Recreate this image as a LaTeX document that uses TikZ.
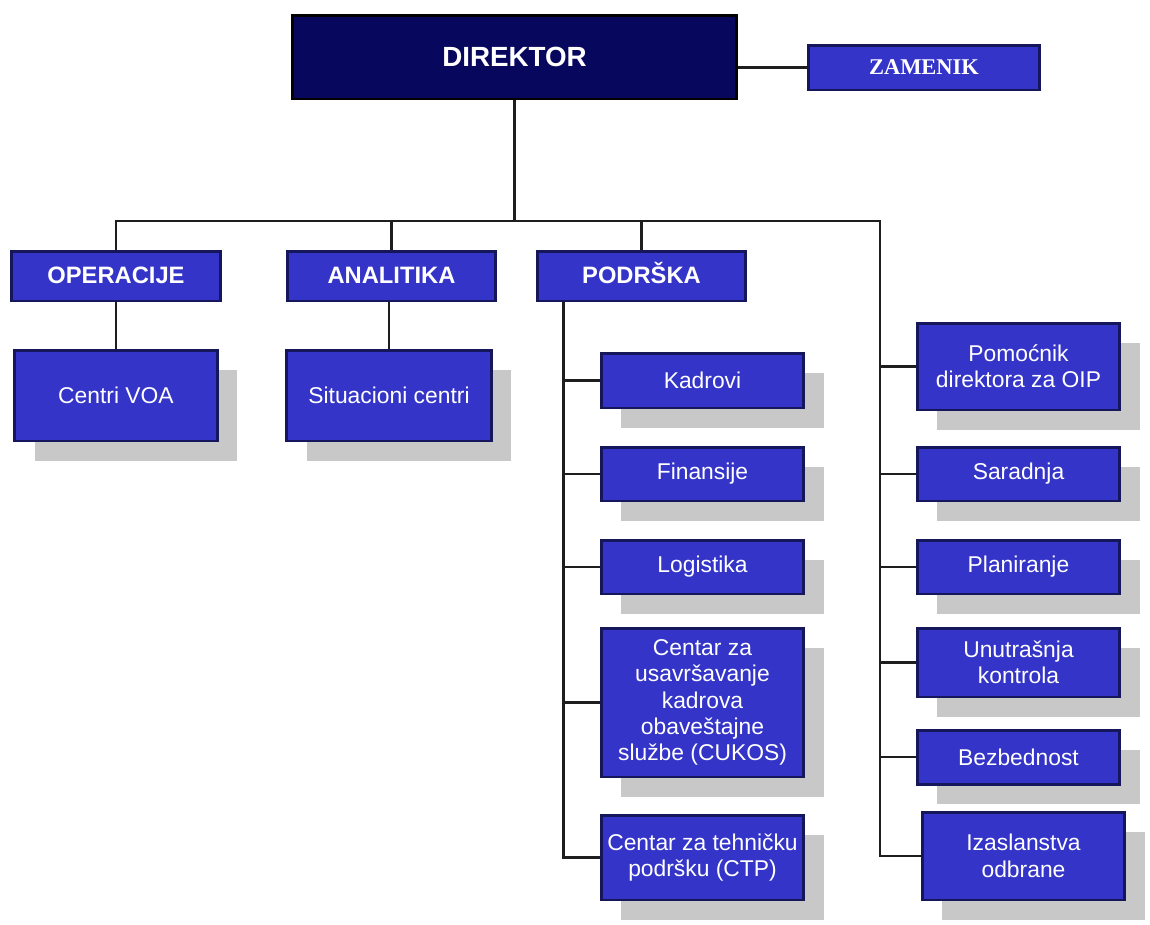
\documentclass[tikz,border=0pt]{standalone}
\usepackage{fontspec}
\setmainfont{Liberation Sans}
\newfontfamily\zamfont{Liberation Serif}
\usepackage{tikz}
\usetikzlibrary{shadows, calc}
\definecolor{NAVY}{HTML}{07075E}
\definecolor{BLUE}{HTML}{3434C8}
\definecolor{EDGE}{HTML}{16165A}
\definecolor{SHADE}{HTML}{C8C8C8}
\definecolor{LINE}{HTML}{1E1E1E}

\begin{document}
\begin{tikzpicture}[x=0.02cm, y=-0.02cm,
    orgbox/.style={draw=EDGE, line width=1.7pt, fill=BLUE, text=white, inner sep=0pt, align=center, font=\fontsize{13}{15}\selectfont},
    headbox/.style={orgbox, minimum width=4.18cm, minimum height=1cm, text height=0.95em, text depth=0.05em, font=\bfseries\fontsize{13.5}{15}\selectfont},
    subbox/.style={orgbox, minimum width=4.06cm, drop shadow={shadow xshift=0.4cm, shadow yshift=-0.4cm, fill=SHADE, opacity=1}},
    link/.style={LINE, line width=1.6pt}]
    \useasboundingbox (0,0) rectangle (1150,924);

    % top
    \node[orgbox, fill=NAVY, draw=black, minimum width=8.9cm, minimum height=1.68cm, font=\bfseries\fontsize{15.8}{18}\selectfont] (dir) at (514.5,57) {DIREKTOR};
    \node[orgbox, minimum width=4.64cm, minimum height=0.9cm, font=\zamfont\bfseries\fontsize{12.8}{14}\selectfont] (zam) at (924,67.5) {ZAMENIK};

    % sectors
    \node[headbox] (op) at (116,276) {OPERACIJE};
    \node[headbox] (an) at (391.5,276) {ANALITIKA};
    \node[headbox] (pod) at (641.5,276) {PODRŠKA};
    \node[subbox, minimum height=1.82cm] (voa) at (116,395.5) {Centri VOA};
    \node[subbox, minimum width=4.1cm, minimum height=1.82cm] (sit) at (389,395.5) {Situacioni centri};

    % podrska
    \node[subbox, minimum height=1.1cm] (kad) at (702.5,380.5) {Kadrovi};
    \node[subbox, minimum height=1.08cm] (fin) at (702.5,474) {Finansije};
    \node[subbox, minimum height=1.08cm] (log) at (702.5,567) {Logistika};
    \node[subbox, minimum height=2.98cm] (cuk) at (702.5,702.5) {Centar za\\usavršavanje\\kadrova\\obaveštajne\\službe (CUKOS)};
    \node[subbox, minimum height=1.7cm] (ctp) at (702.5,857.5) {Centar za tehničku\\podršku (CTP)};

    % right column
    \node[subbox, minimum height=1.74cm] (pom) at (1018.5,366.5) {Pomoćnik\\direktora za OIP};
    \node[subbox, minimum height=1.08cm] (sar) at (1018.5,474) {Saradnja};
    \node[subbox, minimum height=1.08cm] (pla) at (1018.5,567) {Planiranje};
    \node[subbox, minimum height=1.38cm] (unu) at (1018.5,662.5) {Unutrašnja\\kontrola};
    \node[subbox, minimum height=1.08cm] (bez) at (1018.5,757) {Bezbednost};
    \node[subbox, minimum height=1.76cm] (iza) at (1023.5,856) {Izaslanstva\\odbrane};

    % connectors
    \coordinate (spR) at (880,221);
    \coordinate (spL) at ($(pod.south west)+(28,0)$);
    \draw[link] (dir.east |- zam.west) -- (zam.west);
    \draw[link] (dir.south) -- (dir.south |- spR);
    \draw[link] (op.north) |- (spR) |- (iza.west);
    \draw[link] (an.north) -- (an.north |- spR);
    \draw[link] (pod.north) -- (pod.north |- spR);
    \draw[link] (op.south) -- (voa.north);
    \draw[link] (an.south -| sit.north) -- (sit.north);
    \draw[link] (spL) |- (ctp.west);
    \foreach \b in {kad, fin, log, cuk}
        \draw[link] (spL |- \b.west) -- (\b.west);
    \foreach \b in {pom, sar, pla, unu, bez}
        \draw[link] (spR |- \b.west) -- (\b.west);
\end{tikzpicture}
\end{document}
